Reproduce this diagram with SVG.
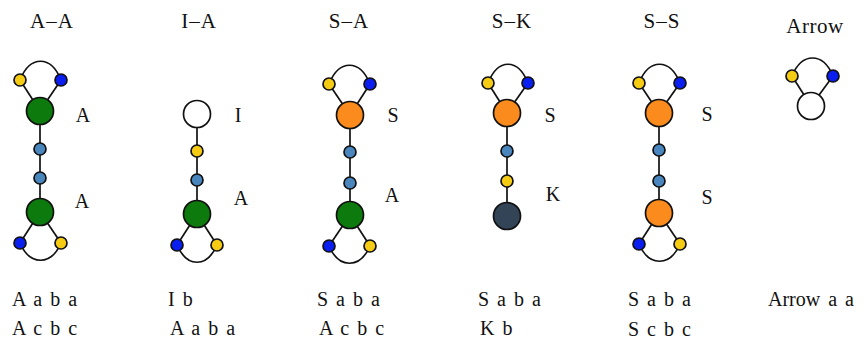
<svg xmlns="http://www.w3.org/2000/svg" width="866" height="339" viewBox="0 0 866 339">
<style>
text{font-family:"Liberation Serif","Times New Roman",serif;fill:#111;}
.t{font-size:21px;text-anchor:middle;letter-spacing:1px;}
.l{font-size:20px;text-anchor:middle;}
.b{font-size:20px;word-spacing:3px;}
.e line,.e path{stroke:#111;stroke-width:1.7;fill:none;}
circle{stroke:#111;stroke-width:1.7;}
.g{fill:#0d7a0d;} .o{fill:#fb8b1c;} .w{fill:#fff;} .y{fill:#f5cb14;} .bl{fill:#0a1ef0;} .s{fill:#4a86be;} .d{fill:#334456;}
</style>
<rect width="866" height="339" fill="#fff"/>
<g id="titles">
<text class="t" x="52" y="28">A–A</text>
<text class="t" x="199" y="28">I–A</text>
<text class="t" x="349" y="28">S–A</text>
<text class="t" x="512" y="28">S–K</text>
<text class="t" x="662" y="28">S–S</text>
<text class="t" x="815" y="33" style="letter-spacing:0.5px">Arrow</text>
</g>
<g id="connectors" class="e">
<line x1="40" y1="111" x2="40" y2="212"/>
<line x1="40" y1="111" x2="20" y2="80"/><line x1="40" y1="111" x2="61" y2="80"/>
<path d="M20,80 C30,55 51,55 61,80"/>
<line x1="40" y1="212" x2="20" y2="243"/><line x1="40" y1="212" x2="61" y2="243"/>
<path d="M20,243 C30,266 51,266 61,243"/>
<line x1="197" y1="114" x2="197" y2="214"/>
<line x1="197" y1="214" x2="177" y2="245"/><line x1="197" y1="214" x2="217" y2="245"/>
<path d="M177,245 C187,268 207,268 217,245"/>
<line x1="350" y1="115" x2="350" y2="215"/>
<line x1="350" y1="115" x2="329" y2="84"/><line x1="350" y1="115" x2="370" y2="84"/>
<path d="M329,84 C339,59 360,59 370,84"/>
<line x1="350" y1="215" x2="329" y2="246"/><line x1="350" y1="215" x2="370" y2="246"/>
<path d="M329,246 C339,269 360,269 370,246"/>
<line x1="507" y1="113" x2="507" y2="216"/>
<line x1="507" y1="113" x2="488" y2="83"/><line x1="507" y1="113" x2="528" y2="83"/>
<path d="M488,83 C498,58 518,58 528,83"/>
<line x1="659" y1="113" x2="659" y2="213"/>
<line x1="659" y1="113" x2="639" y2="83"/><line x1="659" y1="113" x2="680" y2="83"/>
<path d="M639,83 C649,58 670,58 680,83"/>
<line x1="659" y1="213" x2="639" y2="244"/><line x1="659" y1="213" x2="680" y2="244"/>
<path d="M639,244 C649,267 670,267 680,244"/>
<line x1="811" y1="106" x2="792" y2="76"/><line x1="811" y1="106" x2="833" y2="76"/>
<path d="M792,76 C802,52 823,52 833,76"/>
</g>
<g id="col-AA">
<g id="aa-y1"><circle class="y" cx="20" cy="80" r="6"/></g>
<g id="aa-b1"><circle class="bl" cx="61" cy="80" r="6"/></g>
<g id="aa-A1"><circle class="g" cx="40" cy="111" r="13.5"/></g>
<g id="aa-s1"><circle class="s" cx="40" cy="149" r="6"/></g>
<g id="aa-s2"><circle class="s" cx="40" cy="178" r="6"/></g>
<g id="aa-A2"><circle class="g" cx="40" cy="212" r="13.5"/></g>
<g id="aa-b2"><circle class="bl" cx="20" cy="243" r="6"/></g>
<g id="aa-y2"><circle class="y" cx="61" cy="243" r="6"/></g>
<text class="l" x="83" y="122">A</text>
<text class="l" x="82" y="208">A</text>
</g>
<g id="col-IA">
<g id="ia-I"><circle class="w" cx="197" cy="114" r="13.5"/></g>
<g id="ia-y1"><circle class="y" cx="197" cy="151" r="6"/></g>
<g id="ia-s1"><circle class="s" cx="197" cy="180" r="6"/></g>
<g id="ia-A"><circle class="g" cx="197" cy="214" r="13.5"/></g>
<g id="ia-b2"><circle class="bl" cx="177" cy="245" r="6"/></g>
<g id="ia-y2"><circle class="y" cx="217" cy="245" r="6"/></g>
<text class="l" x="238" y="122">I</text>
<text class="l" x="241" y="205">A</text>
</g>
<g id="col-SA">
<g id="sa-y1"><circle class="y" cx="329" cy="84" r="6"/></g>
<g id="sa-b1"><circle class="bl" cx="370" cy="84" r="6"/></g>
<g id="sa-S"><circle class="o" cx="350" cy="115" r="13.5"/></g>
<g id="sa-s1"><circle class="s" cx="350" cy="152" r="6"/></g>
<g id="sa-s2"><circle class="s" cx="350" cy="183" r="6"/></g>
<g id="sa-A"><circle class="g" cx="350" cy="215" r="13.5"/></g>
<g id="sa-b2"><circle class="bl" cx="329" cy="246" r="6"/></g>
<g id="sa-y2"><circle class="y" cx="370" cy="246" r="6"/></g>
<text class="l" x="393" y="122">S</text>
<text class="l" x="392" y="202">A</text>
</g>
<g id="col-SK">
<g id="sk-y1"><circle class="y" cx="488" cy="83" r="6"/></g>
<g id="sk-b1"><circle class="bl" cx="528" cy="83" r="6"/></g>
<g id="sk-S"><circle class="o" cx="507" cy="113" r="13.5"/></g>
<g id="sk-s1"><circle class="s" cx="507" cy="151" r="6"/></g>
<g id="sk-y2"><circle class="y" cx="507" cy="181" r="6"/></g>
<g id="sk-K"><circle class="d" cx="507" cy="216" r="13.5"/></g>
<text class="l" x="550" y="122">S</text>
<text class="l" x="553" y="201">K</text>
</g>
<g id="col-SS">
<g id="ss-y1"><circle class="y" cx="639" cy="83" r="6"/></g>
<g id="ss-b1"><circle class="bl" cx="680" cy="83" r="6"/></g>
<g id="ss-S1"><circle class="o" cx="659" cy="113" r="13.5"/></g>
<g id="ss-s1"><circle class="s" cx="659" cy="150" r="6"/></g>
<g id="ss-s2"><circle class="s" cx="659" cy="181" r="6"/></g>
<g id="ss-S2"><circle class="o" cx="659" cy="213" r="13.5"/></g>
<g id="ss-b2"><circle class="bl" cx="639" cy="244" r="6"/></g>
<g id="ss-y2"><circle class="y" cx="680" cy="244" r="6"/></g>
<text class="l" x="707" y="121">S</text>
<text class="l" x="707" y="204">S</text>
</g>
<g id="col-Arrow">
<g id="ar-y1"><circle class="y" cx="792" cy="76" r="6"/></g>
<g id="ar-b1"><circle class="bl" cx="833" cy="76" r="6"/></g>
<g id="ar-W"><circle class="w" cx="811" cy="106" r="13.5"/></g>
</g>
<g id="labels">
<text class="b" x="12" y="306">A a b a</text>
<text class="b" x="12" y="335">A c b c</text>
<text class="b" x="168" y="306">I b</text>
<text class="b" x="170" y="335">A a b a</text>
<text class="b" x="317" y="306">S a b a</text>
<text class="b" x="319" y="335">A c b c</text>
<text class="b" x="478" y="306">S a b a</text>
<text class="b" x="480" y="335">K b</text>
<text class="b" x="628" y="306">S a b a</text>
<text class="b" x="628" y="336">S c b c</text>
<text class="b" x="768" y="306">Arrow a a</text>
</g>
</svg>
